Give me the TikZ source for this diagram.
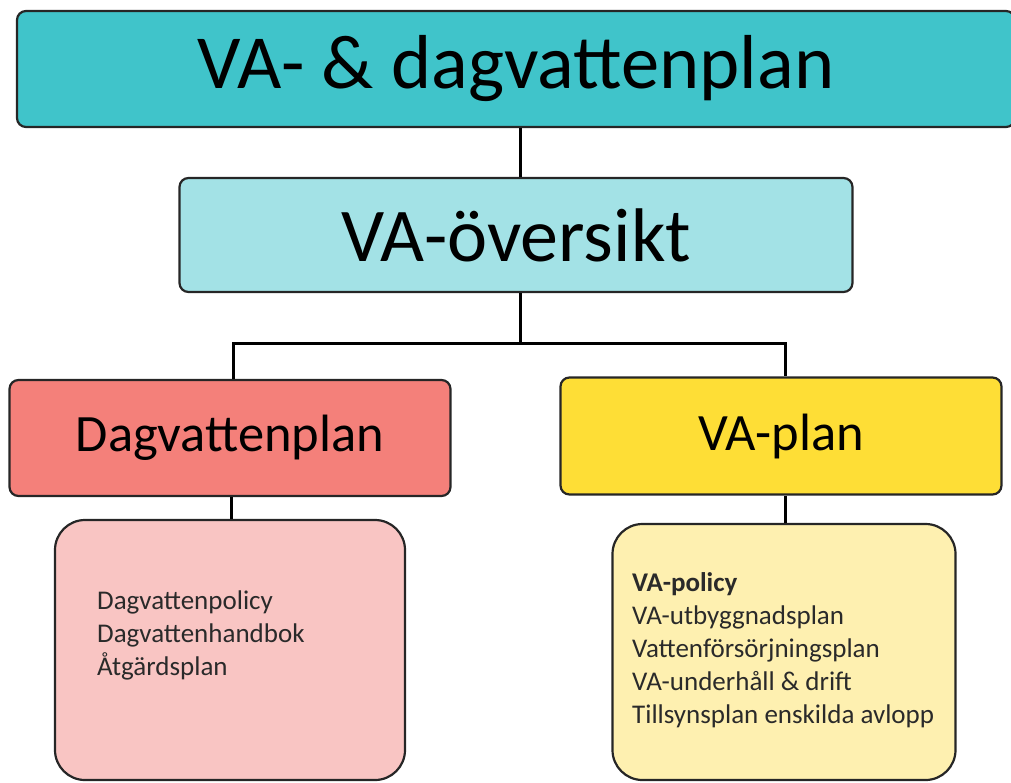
\documentclass[tikz,border=0pt]{standalone}
\usepackage{fontspec}
\setmainfont{Carlito}
\definecolor{cTop}{HTML}{40C4CA}
\definecolor{cOv}{HTML}{A3E2E6}
\definecolor{cDag}{HTML}{F4807A}
\definecolor{cVap}{HTML}{FEDE36}
\definecolor{cDagL}{HTML}{F9C5C3}
\definecolor{cVapL}{HTML}{FEF0B0}
\definecolor{cTxt}{HTML}{2A2A2A}
\begin{document}
\begin{tikzpicture}[x=1pt,y=-1pt,
  box/.style={draw=black!85, line width=2.2pt, rounded corners=9pt, inner sep=0pt, text=black},
  bigbox/.style={draw=black!85, line width=2.2pt, rounded corners=30pt, inner sep=0pt},
  conn/.style={draw=black, line width=3pt},
  list/.style={anchor=base west, align=left, inner sep=0pt, text=cTxt, font=\fontsize{27}{32.8}\selectfont}]
\useasboundingbox (0,0) rectangle (1011,782);
\clip (0,0) rectangle (1011,782);
\node[box, fill=cTop, minimum width=998, minimum height=116, font=\fontsize{76.5}{84}\selectfont] (top) at (516,69) {VA- \& dagvattenplan};
\node[box, fill=cOv, minimum width=673, minimum height=114, font=\fontsize{76}{84}\selectfont] (ov) at (516,235) {VA-översikt};
\node[box, fill=cDag, minimum width=441, minimum height=116, font=\fontsize{52.5}{60}\selectfont] (dag) at (230,438) {Dagvattenplan};
\node[box, fill=cVap, minimum width=441, minimum height=117, font=\fontsize{52.5}{60}\selectfont] (vap) at (781,436) {VA-plan};
\node[bigbox, fill=cDagL, minimum width=350, minimum height=260] (dagl) at (230,650) {};
\node[bigbox, fill=cVapL, minimum width=343, minimum height=256] (vapl) at (784,652) {};
\node[list] (dagt) at (97,675) {Dagvattenpolicy\\Dagvattenhandbok\\Åtgärdsplan};
\node[list] (vapt) at (632,723) {\textbf{VA-policy}\\VA-utbyggnadsplan\\Vattenförsörjningsplan\\VA-underhåll \& drift\\Tillsynsplan enskilda avlopp};
\coordinate (j) at (520,343);
\draw[conn] (top.south -| j) -- (ov.north -| j);
\draw[conn] (ov.south -| j) -- (j);
\draw[conn] (dag.north -| 233,0) |- (j) -| (vap.north -| 785,0);
\draw[conn] (dag.south -| 231,0) -- (dagl.north -| 231,0);
\draw[conn] (vap.south -| 785,0) -- (vapl.north -| 785,0);
\end{tikzpicture}
\end{document}
